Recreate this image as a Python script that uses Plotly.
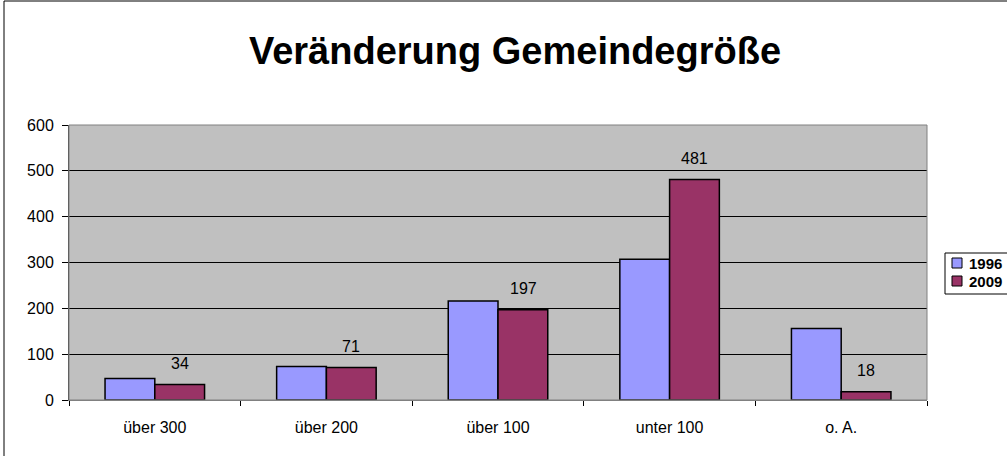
import plotly.graph_objects as go

categories = ["über 300", "über 200", "über 100", "unter 100", "o. A."]
values_1996 = [47, 73, 216, 307, 156]
values_2009 = [34, 71, 197, 481, 18]
series_names = ["1996", "2009"]
series_colors = ["#9999FF", "#993366"]
y_ticks = [0, 100, 200, 300, 400, 500, 600]

FONT = "Liberation Sans, Arial, sans-serif"
W, H = 1007, 456
ML, MR, MT, MB = 69, 80, 125, 56
PW, PH = W - ML - MR, H - MT - MB


def px2x(px):
    return (px - ML) / PW


def py2y(py):
    return (H - MB - py) / PH


fig = go.Figure()
for name, vals, col in zip(series_names, [values_1996, values_2009], series_colors):
    fig.add_trace(go.Bar(
        x=categories, y=vals, name=name,
        marker=dict(color=col, line=dict(color="black", width=1.5)),
        showlegend=False, hoverinfo="skip",
    ))

# data labels for 2009 series
for c, v in zip(categories, values_2009):
    fig.add_annotation(x=c, y=v, xref="x", yref="y", text=str(v),
                       showarrow=False, xshift=25, yshift=21,
                       yanchor="middle", xanchor="center",
                       font=dict(size=16, family=FONT, color="black"))

# outer chart border
fig.add_shape(type="rect", xref="paper", yref="paper",
              x0=px2x(4), x1=px2x(1040), y0=py2y(500), y1=py2y(1),
              line=dict(color="black", width=1), layer="below")
# plot area border
fig.add_shape(type="rect", xref="paper", yref="paper",
              x0=0, x1=1, y0=0, y1=1,
              line=dict(color="#808080", width=1), layer="above")

# manual legend
fig.add_shape(type="rect", xref="paper", yref="paper",
              x0=px2x(945), x1=px2x(1040), y0=py2y(294), y1=py2y(253),
              line=dict(color="black", width=1), fillcolor="white", layer="above")
for i, (name, col) in enumerate(zip(series_names, series_colors)):
    cy = 263 + 18 * i
    fig.add_shape(type="rect", xref="paper", yref="paper",
                  x0=px2x(952), x1=px2x(962), y0=py2y(cy + 5), y1=py2y(cy - 5),
                  line=dict(color="black", width=1), fillcolor=col, layer="above")
    fig.add_annotation(x=px2x(967), y=py2y(cy), xref="paper", yref="paper",
                       text="<b>%s</b>" % name, showarrow=False,
                       xanchor="left", yanchor="middle",
                       font=dict(size=15, family=FONT, color="black"))

fig.update_layout(
    width=W, height=H,
    margin=dict(l=ML, r=MR, t=MT, b=MB),
    paper_bgcolor="white", plot_bgcolor="#C0C0C0",
    barmode="group", bargap=0.42, bargroupgap=0,
    font=dict(family=FONT, color="black", size=16),
    title=dict(text="<b>Veränderung Gemeindegröße</b>", x=px2x(515), xanchor="center",
               xref="paper", y=0.888, yanchor="middle",
               font=dict(size=38, family=FONT, color="black")),
    showlegend=False,
)
fig.update_xaxes(
    showgrid=False, ticks="outside", tickson="boundaries", ticklen=5,
    tickcolor="black", showline=True, linecolor="#808080", linewidth=1,
    ticklabelstandoff=13,
    tickfont=dict(size=16, family=FONT, color="black"),
)
fig.update_yaxes(
    range=[0, 600], tickvals=y_ticks, showgrid=True, gridcolor="black", gridwidth=1,
    ticks="outside", ticklen=6, tickcolor="black", showline=True,
    linecolor="#404040", linewidth=1, zeroline=False, ticklabelstandoff=5,
    tickfont=dict(size=16, family=FONT, color="black"),
)

fig.write_html("out.html", config={"displayModeBar": False},
               post_script="document.body.style.margin='0';document.body.style.overflow='hidden';")
